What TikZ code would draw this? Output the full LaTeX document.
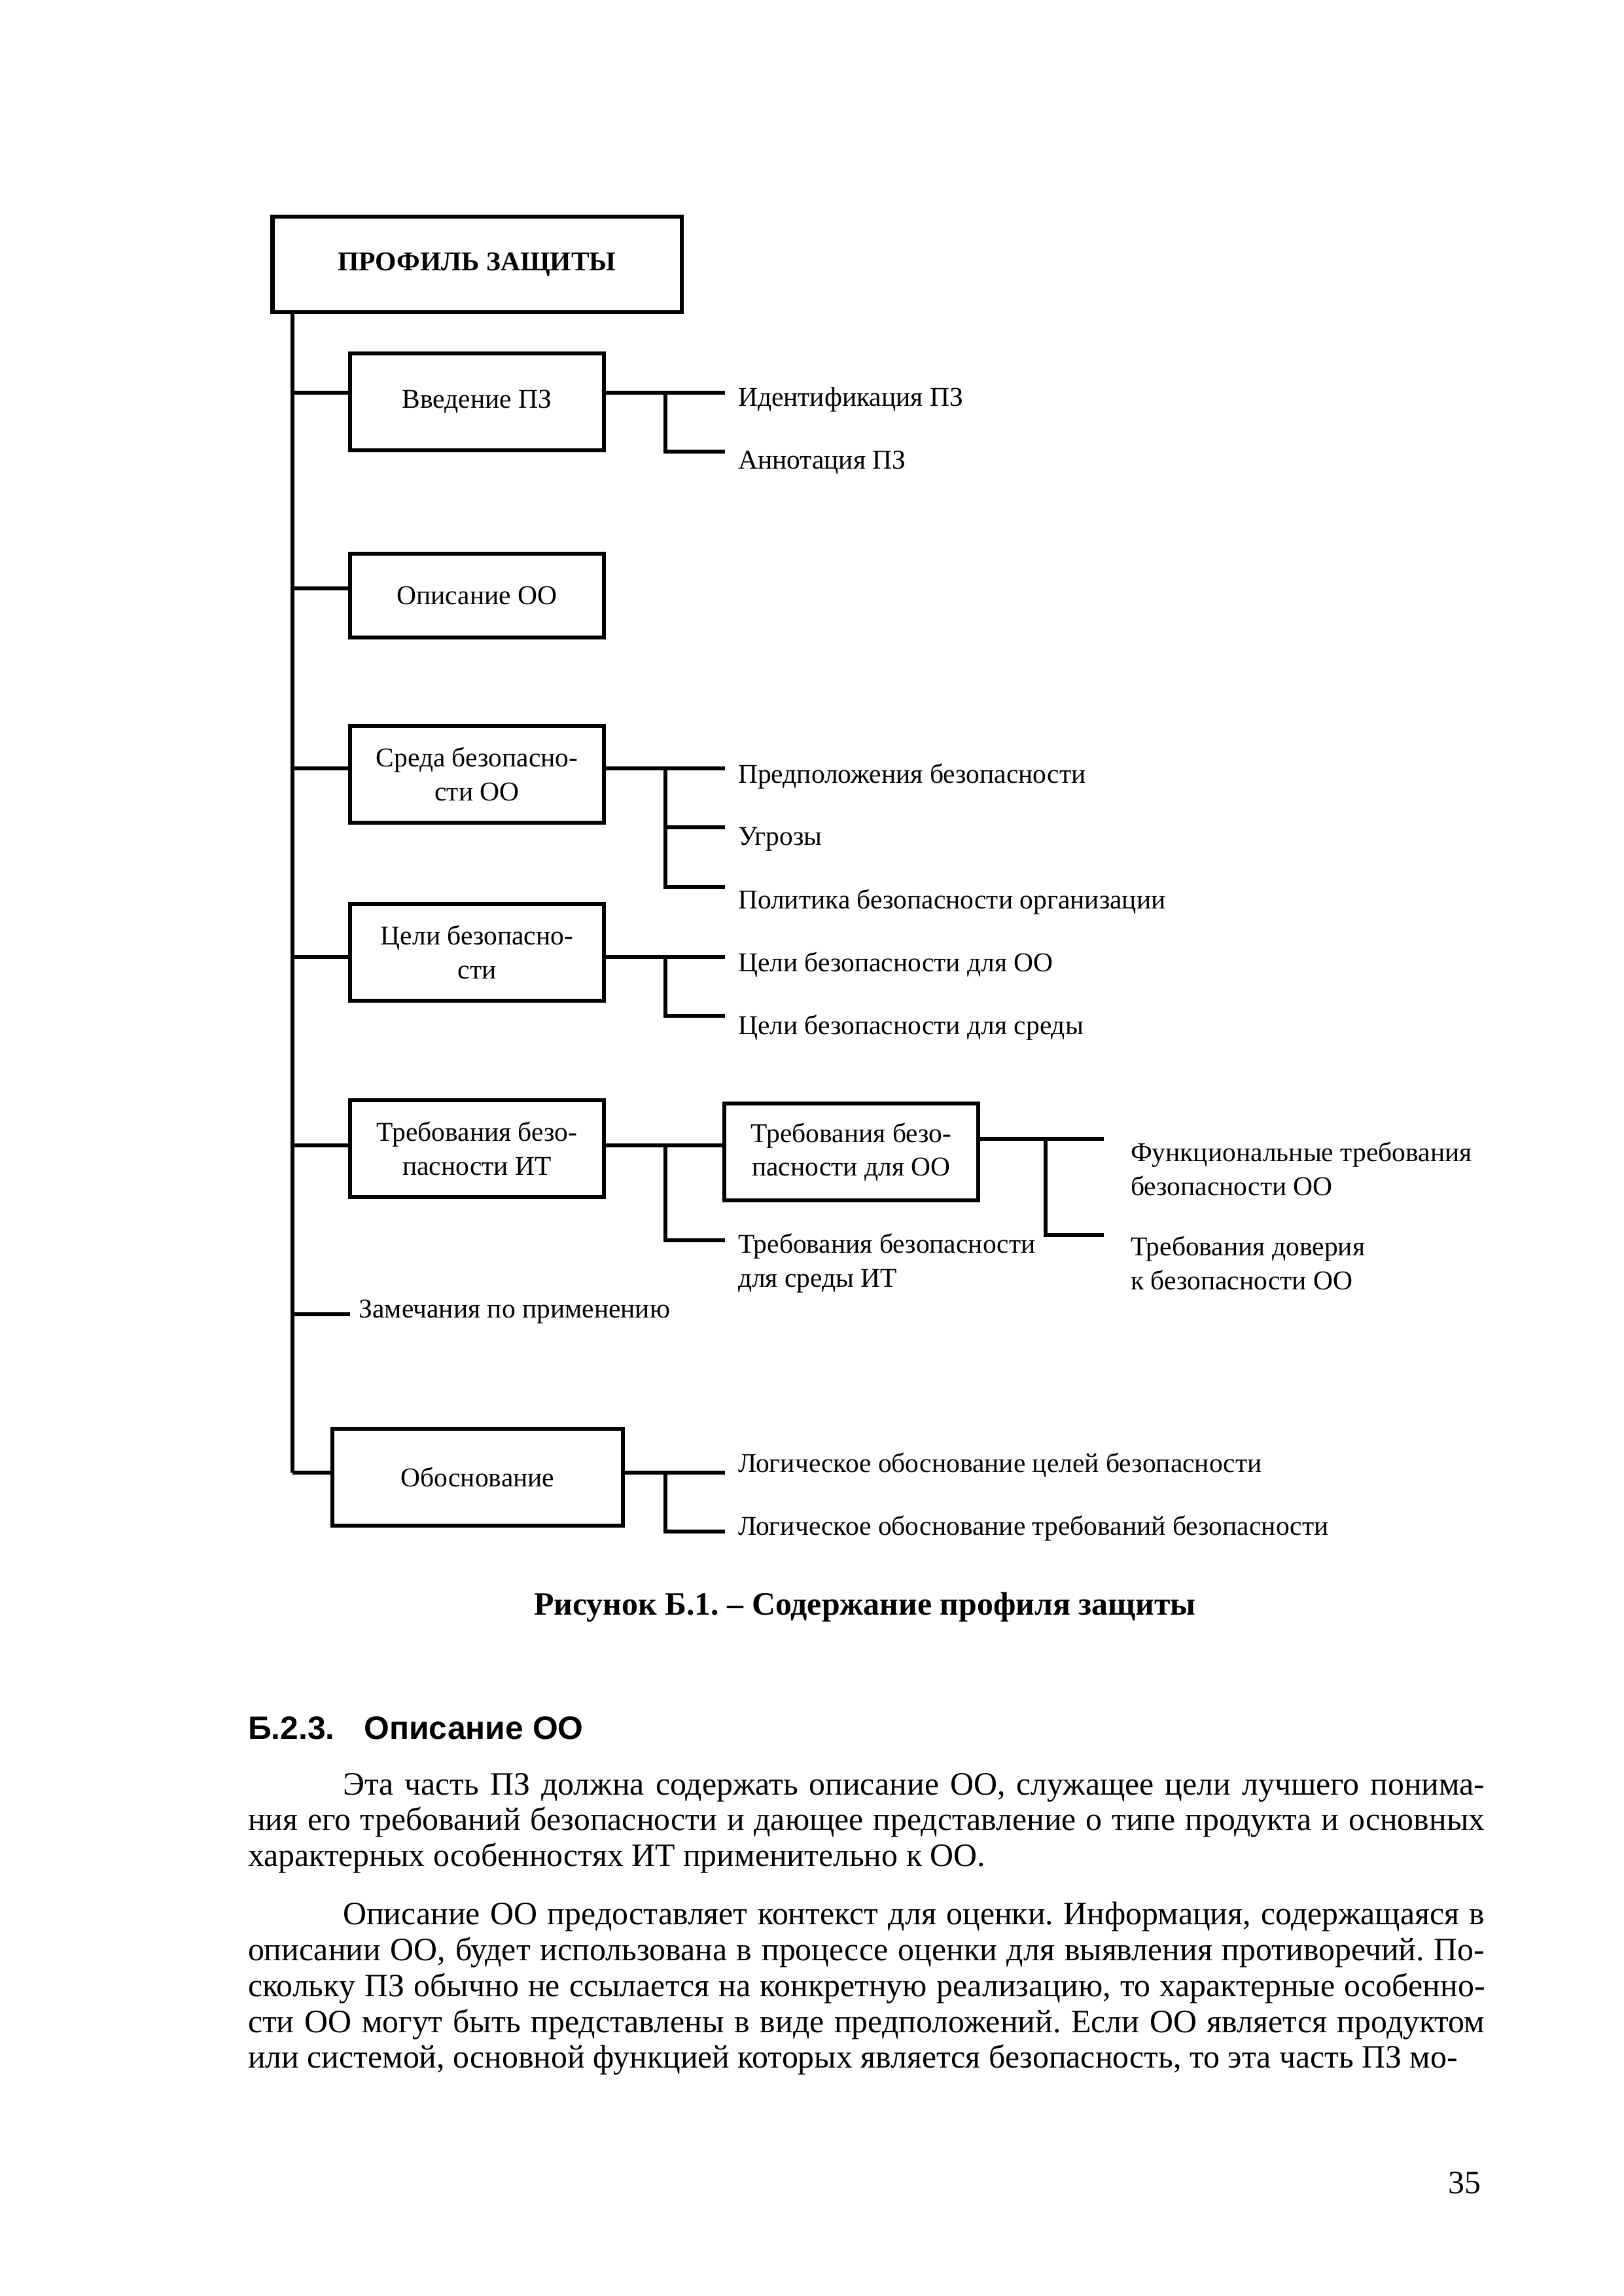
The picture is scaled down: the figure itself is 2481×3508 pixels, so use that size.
\documentclass[tikz,border=0pt]{standalone}
\usepackage{fontspec}
\setmainfont{Liberation Serif}
\setsansfont{Liberation Sans}
\frenchspacing

\begin{document}
\begin{tikzpicture}[x=0.08464mm, y=-0.08464mm, line width=1.45pt,
	box/.style={draw, align=center, minimum width=32.8mm, minimum height=12.6mm, inner sep=1pt, font=\fontsize{10}{12.4}\selectfont},
	item/.style={anchor=west, inner sep=0pt, align=left, font=\fontsize{10}{12.4}\selectfont},
	body/.style={anchor=north west, inner sep=0pt, text width=160mm, align=justify, font=\fontsize{12}{13.2}\selectfont}]
	\path[use as bounding box, fill=white] (0,0) rectangle (2481,3508);
	% boxes
	\node[box, minimum width=52.9mm, minimum height=12.4mm, font=\bfseries\fontsize{10}{12}\selectfont] (pz) at (729,404) {ПРОФИЛЬ ЗАЩИТЫ};
	\node[box] (vv) at (729,614) {Введение ПЗ};
	\node[box, minimum height=10.8mm] (oo) at (729,910) {Описание ОО};
	\node[box] (sr) at (729,1183) {Среда безопасно-\\сти ОО};
	\node[box] (cb) at (729,1455) {Цели безопасно-\\сти};
	\node[box] (tr) at (729,1755) {Требования безо-\\пасности ИТ};
	\node[box] (tro) at (1301,1760) {Требования безо-\\пасности для ОО};
	\node[box, minimum width=37.5mm] (ob) at (730,2257) {Обоснование};
	% trunk and its rows
	\coordinate (r1) at (447,600);
	\coordinate (r2) at (447,899);
	\coordinate (r3) at (447,1174);
	\coordinate (r4) at (447,1462);
	\coordinate (r5) at (447,1750);
	\coordinate (r6) at (447,2008);
	\coordinate (r7) at (447,2250);
	\coordinate (b1) at (1017,0);
	\coordinate (b2) at (1598,0);
	\draw[line width=1.3pt] (r1 |- pz.south) -- (r7);
	\draw (r1) -- (vv.west |- r1);
	\draw (r2) -- (oo.west |- r2);
	\draw (r3) -- (sr.west |- r3);
	\draw (r4) -- (cb.west |- r4);
	\draw (r5) -- (tr.west |- r5);
	\draw (r7) -- (ob.west |- r7);
	\node[item, inner xsep=0.9mm] (zm) at (535,2004) {Замечания по применению};
	\draw (r6) -- (zm.west |- r6);
	% Введение ПЗ
	\coordinate (v1) at (1108,600);
	\coordinate (v2) at (1108,690);
	\draw (vv.east |- v1) -- (v1);
	\draw (b1 |- v1) |- (v2);
	\node[item] (vv1) at (1125,611) {Идентификация ПЗ};
	\node[item] (vv2) at (1125,707) {Аннотация ПЗ};
	% Среда безопасности
	\coordinate (s1) at (1108,1174);
	\coordinate (s2) at (1108,1264);
	\coordinate (s3) at (1108,1355);
	\draw (sr.east |- s1) -- (s1);
	\draw (b1 |- s1) |- (s3);
	\draw (b1 |- s2) -- (s2);
	\node[item] (sr1) at (1125,1186) {Предположения безопасности};
	\node[item] (sr2) at (1125,1282) {Угрозы};
	\node[item] (sr3) at (1125,1378) {Политика безопасности организации};
	% Цели безопасности
	\coordinate (c1) at (1108,1462);
	\coordinate (c2) at (1108,1552);
	\draw (cb.east |- c1) -- (c1);
	\draw (b1 |- c1) |- (c2);
	\node[item] (cb1) at (1125,1474) {Цели безопасности для ОО};
	\node[item] (cb2) at (1125,1570) {Цели безопасности для среды};
	% Требования безопасности ИТ
	\coordinate (t2) at (1108,1895);
	\draw (tr.east |- r5) -- (tro.west |- r5);
	\draw (b1 |- r5) |- (t2);
	\node[item] (tr2) at (1125,1930) {Требования безопасности\\для среды ИТ};
	\coordinate (f1) at (1687,1740);
	\coordinate (f2) at (1687,1887);
	\draw (tro.east |- f1) -- (f1);
	\draw (b2 |- f1) |- (f2);
	\node[item] (tro1) at (1725,1786) {Функциональные требования\\безопасности ОО};
	\node[item] (tro2) at (1725,1930) {Требования доверия\\к безопасности ОО};
	% Обоснование
	\coordinate (o1) at (1108,2250);
	\coordinate (o2) at (1108,2340);
	\draw (ob.east |- o1) -- (o1);
	\draw (b1 |- o1) |- (o2);
	\node[item] (ob1) at (1125,2239) {Логическое обоснование целей безопасности};
	\node[item] (ob2) at (1125,2335) {Логическое обоснование требований безопасности};
	% text of the page
	\node[font=\bfseries\fontsize{12}{14}\selectfont] (cap) at (1322,2456) {Рисунок Б.1. – Содержание профиля защиты};
	\node[anchor=west, inner sep=0pt, font=\sffamily\bfseries\fontsize{12}{14}\selectfont] (hd) at (376,2640) {\makebox[15mm][l]{Б.2.3.}Описание ОО};
	\node[body] (p1) at (376,2706) {\hspace*{12.3mm}Эта часть ПЗ должна содержать описание ОО, служащее цели лучшего понима-\linebreak ния его требований безопасности и дающее представление о типе продукта и основных\linebreak характерных особенностях ИТ применительно к ОО.};
	\node[body] (p2) at (376,2903) {\parfillskip=0pt\hspace*{12.3mm}Описание ОО предоставляет контекст для оценки. Информация, содержащаяся в\linebreak описании ОО, будет использована в процессе оценки для выявления противоречий. По-\linebreak скольку ПЗ обычно не ссылается на конкретную реализацию, то характерные особенно-\linebreak сти ОО могут быть представлены в виде предположений. Если ОО является продуктом\linebreak или системой, основной функцией которых является безопасность, то эта часть ПЗ мо-};
	\node[anchor=east, inner sep=0pt, font=\fontsize{12}{14}\selectfont] (pg) at (2266,3335) {35};
\end{tikzpicture}
\end{document}
